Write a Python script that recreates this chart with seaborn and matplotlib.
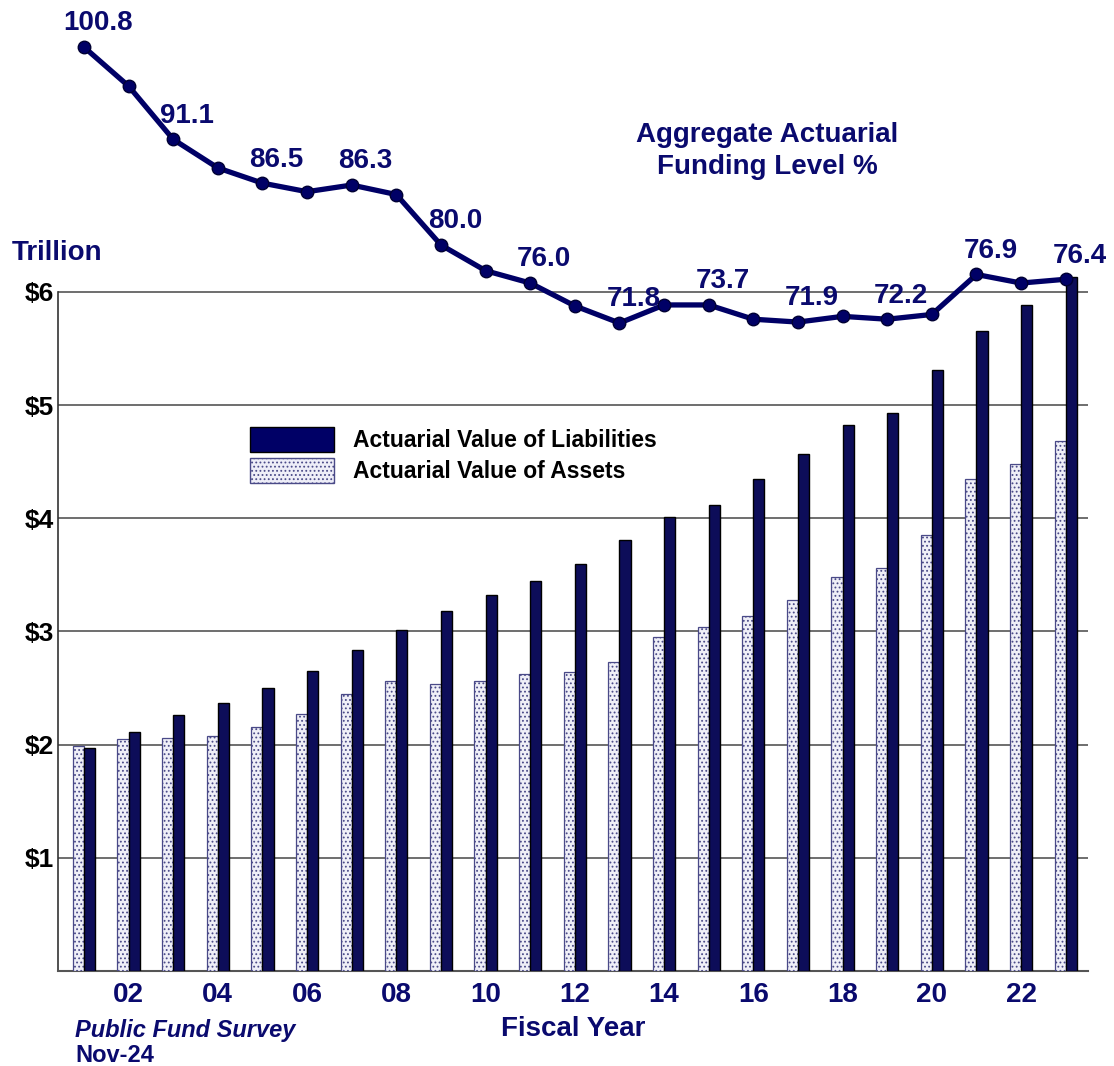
import matplotlib
matplotlib.use("Agg")
import matplotlib.pyplot as plt
import numpy as np
import pandas as pd
import seaborn as sns
from matplotlib.patches import Patch

# Public Fund Survey, fiscal years 2001-2023 (values in $ trillion)
years = list(range(2001, 2024))
liabilities = [1.97, 2.11, 2.26, 2.37, 2.50, 2.65, 2.84, 3.01, 3.18, 3.32, 3.45, 3.60,
               3.81, 4.01, 4.12, 4.35, 4.57, 4.82, 4.93, 5.31, 5.65, 5.88, 6.13]
assets = [1.99, 2.05, 2.06, 2.08, 2.16, 2.27, 2.45, 2.56, 2.54, 2.56, 2.62, 2.64,
          2.73, 2.95, 3.04, 3.14, 3.28, 3.48, 3.56, 3.85, 4.35, 4.48, 4.68]
# aggregate actuarial funding level, %
funding = [100.8, 96.7, 91.1, 88.1, 86.5, 85.6, 86.3, 85.3, 80.0, 77.3, 76.0, 73.6,
           71.8, 73.7, 73.7, 72.2, 71.9, 72.5, 72.2, 72.7, 76.9, 76.0, 76.4]
y_ticks = [1, 2, 3, 4, 5, 6]
y_ticklabels = ["$1", "$2", "$3", "$4", "$5", "$6"]

NAVY = "#000066"
TEXT_NAVY = "#0a0a6e"
ASSET_FILL = "#eeeef8"
ASSET_EDGE = "#4a4a88"

sns.set_style("white")
plt.rcParams["font.family"] = ["Liberation Sans", "DejaVu Sans"]
plt.rcParams["font.weight"] = "bold"
plt.rcParams["hatch.linewidth"] = 0.8

df = pd.DataFrame({
    "year": years * 2,
    "value": assets + liabilities,
    "series": ["Assets"] * len(years) + ["Liabilities"] * len(years),
})

fig = plt.figure(figsize=(11.14, 10.66), dpi=100)
ax = fig.add_axes([0.0521, 0.0891, 0.9246, 0.9015])

sns.barplot(data=df, x="year", y="value", hue="series",
            hue_order=["Assets", "Liabilities"],
            palette={"Assets": ASSET_FILL, "Liabilities": NAVY},
            native_scale=True, width=0.5, gap=0, errorbar=None,
            legend=False, ax=ax, zorder=3)

n = len(years)
for i, bar in enumerate(ax.patches):
    if i < n:  # assets
        bar.set_hatch("....")
        bar.set_edgecolor(ASSET_EDGE)
        bar.set_linewidth(0.9)
    else:
        bar.set_edgecolor("black")
        bar.set_linewidth(1.0)

ax.set_xlim(2000.42, 2023.5)
ax.set_ylim(0, 8.49)
ax.set_yticks(y_ticks)
ax.set_yticklabels(y_ticklabels, fontsize=19, fontweight="bold", color="black")
xt = years[1::2]
ax.set_xticks(xt)
ax.set_xticklabels([f"{y % 100:02d}" for y in xt], fontsize=20,
                   fontweight="bold", color=TEXT_NAVY)
ax.tick_params(axis="both", length=0)
ax.tick_params(axis="y", pad=3)
ax.tick_params(axis="x", pad=8)
ax.set_xlabel("Fiscal Year", fontsize=20, fontweight="bold", color=TEXT_NAVY, labelpad=6)
ax.set_ylabel("")
ax.yaxis.grid(True, color="#555555", linewidth=1.2, zorder=0)
ax.set_axisbelow(True)
for s in ["top", "right"]:
    ax.spines[s].set_visible(False)
ax.spines["left"].set_bounds(0, 6)
ax.spines["left"].set_color("#333333")
ax.spines["bottom"].set_color("#555555")
ax.spines["left"].set_linewidth(1.2)
ax.spines["bottom"].set_linewidth(1.5)

handles = [
    Patch(facecolor=NAVY, edgecolor="black", label="Actuarial Value of Liabilities"),
    Patch(facecolor=ASSET_FILL, edgecolor=ASSET_EDGE, hatch="....",
          label="Actuarial Value of Assets"),
]
leg = ax.legend(handles=handles, loc="upper left", bbox_to_anchor=(0.186, 0.566),
                frameon=False, borderpad=0, borderaxespad=0, handlelength=3.7,
                handleheight=1.3, handletextpad=0.8, labelspacing=0.25,
                prop={"size": 16.5, "weight": "bold"})
for t in leg.get_texts():
    t.set_color("black")

# funding level line on a hidden secondary scale
ax2 = ax.twinx()
sns.lineplot(x=years, y=funding, ax=ax2, color=NAVY, linewidth=3.8,
             marker="o", markersize=9, markeredgecolor="#000033",
             markeredgewidth=1.0, zorder=5)
ax2.set_ylim(3.71, 104.69)
ax2.set_yticks([])
ax2.set_ylabel("")
for s in ax2.spines.values():
    s.set_visible(False)
for yr, v in zip(years, funding):
    if yr % 2 == 1:
        ax2.annotate(f"{v:.1f}", (yr, v), xytext=(10, 17), textcoords="offset points",
                     ha="center", va="center", fontsize=20, fontweight="bold",
                     color=TEXT_NAVY)

fig.text(767 / 1114, 1 - 151 / 1066, "Aggregate Actuarial\nFunding Level %",
         ha="center", va="center", fontsize=20, fontweight="bold",
         color=TEXT_NAVY, linespacing=1.25)
fig.text(12 / 1114, 1 - 253 / 1066, "Trillion", ha="left", va="center",
         fontsize=20, fontweight="bold", color=TEXT_NAVY)
fig.text(75 / 1114, 1 - 1030 / 1066, "Public Fund Survey", ha="left", va="center",
         fontsize=17, fontweight="bold", fontstyle="italic", color=TEXT_NAVY)
fig.text(75 / 1114, 1 - 1056 / 1066, "Nov-24", ha="left", va="center",
         fontsize=17, fontweight="bold", color=TEXT_NAVY)

fig.savefig("out.png", dpi=100)
